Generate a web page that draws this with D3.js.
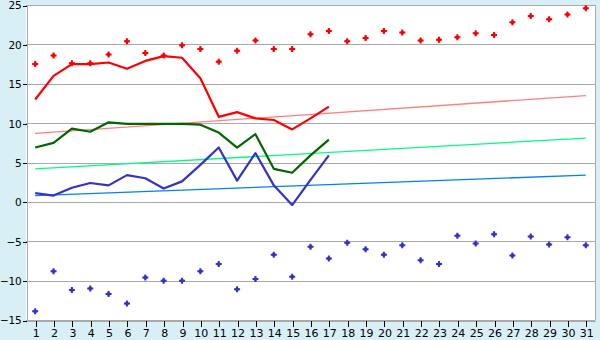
<!DOCTYPE html>
<html>
<head>
<meta charset="utf-8">
<script src="https://cdn.jsdelivr.net/npm/d3@7"></script>
<style>
  html, body { margin: 0; padding: 0; background: #d9eff6; }
  svg { display: block; }
  text { font-family: "DejaVu Sans", Verdana, sans-serif; font-size: 11px; fill: #000; }
</style>
</head>
<body>
<svg id="chart" width="600" height="340"></svg>
<script>
const days = ["1","2","3","4","5","6","7","8","9","10","11","12","13","14","15","16","17","18","19","20","21","22","23","24","25","26","27","28","29","30","31"];
const yTicks = [-15, -10, -5, 0, 5, 10, 15, 20, 25];

const maxPoints = [17.5,18.6,17.6,17.6,18.7,20.4,18.9,18.6,19.9,19.4,17.8,19.2,20.5,19.4,19.4,21.3,21.7,20.4,20.8,21.7,21.5,20.5,20.6,20.9,21.4,21.2,22.8,23.6,23.2,23.8,24.6];
const minPoints = [-13.9,-8.8,-11.2,-11.0,-11.7,-12.9,-9.6,-10.0,-10.0,-8.8,-7.9,-11.1,-9.8,-6.7,-9.5,-5.7,-7.2,-5.2,-6.0,-6.7,-5.5,-7.4,-7.9,-4.3,-5.3,-4.1,-6.8,-4.4,-5.4,-4.5,-5.5];

const redLine   = [13.0,16.0,17.5,17.5,17.7,16.9,17.9,18.5,18.3,15.7,10.8,11.4,10.6,10.4,9.2,10.6,12.1];
const greenLine = [6.9,7.5,9.3,8.9,10.1,9.9,9.9,9.9,9.9,9.8,8.8,6.9,8.6,4.2,3.7,5.9,7.9];
const blueLine  = [1.1,0.8,1.8,2.4,2.1,3.4,3.0,1.7,2.6,4.7,6.9,2.7,6.2,2.1,-0.4,2.8,5.9];

// trend lines: value at first day and at last day
const redTrend   = [8.7, 13.5];
const greenTrend = [4.2, 8.1];
const blueTrend  = [0.8, 3.4];

const svg = d3.select("#chart");
const pLeft = 26, pRight = 595, pTop = 5, pBottom = 320;

const x = d3.scalePoint().domain(days).range([pLeft, pRight]).padding(0.5);
const y = d3.scaleLinear().domain([-15, 25]).range([pBottom, pTop]);

// plot background
svg.append("rect").attr("x", pLeft).attr("y", pTop)
  .attr("width", pRight - pLeft).attr("height", pBottom - pTop).attr("fill", "#fff");

// gridlines
svg.append("g").selectAll("line").data(yTicks).join("line")
  .attr("x1", pLeft).attr("x2", pRight)
  .attr("y1", d => y(d) + 0.5).attr("y2", d => y(d) + 0.5)
  .attr("stroke", "#aaaaaa").attr("stroke-width", 1).attr("shape-rendering", "crispEdges");

// right border
svg.append("line").attr("x1", pRight + 0.5).attr("x2", pRight + 0.5).attr("y1", pTop).attr("y2", pBottom)
  .attr("stroke", "#aaaaaa").attr("shape-rendering", "crispEdges");

// axes
const yAxis = svg.append("g").attr("transform", `translate(${pLeft + 0.5},0.5)`)
  .call(d3.axisLeft(y).tickValues(yTicks).tickSize(4).tickSizeOuter(0).tickPadding(1));
const xAxis = svg.append("g").attr("transform", `translate(0.5,${pBottom + 0.5})`)
  .call(d3.axisBottom(x).tickSize(6).tickSizeOuter(0).tickPadding(3));
[yAxis, xAxis].forEach(a => {
  a.select(".domain").attr("stroke", "#aaaaaa").attr("shape-rendering", "crispEdges");
  a.selectAll(".tick line").attr("stroke", "#000").attr("shape-rendering", "crispEdges");
  a.selectAll("text").style("font-family", '"DejaVu Sans", Verdana, sans-serif').style("font-size", "11px").attr("fill", "#000");
});
yAxis.selectAll("text").style("font-size", "10.5px").style("letter-spacing", "-0.2px");

// trend lines
const trends = [
  {v: redTrend, c: "#ff8080"},
  {v: greenTrend, c: "#00ff80"},
  {v: blueTrend, c: "#0080ff"}
];
trends.forEach(t => {
  svg.append("line")
    .attr("x1", x(days[0])).attr("x2", x(days[days.length - 1]))
    .attr("y1", y(t.v[0])).attr("y2", y(t.v[1]))
    .attr("stroke", t.c).attr("stroke-width", 1.3);
});

// data lines
const line = d3.line().x((d, i) => x(days[i])).y(d => y(d));
[
  {v: greenLine, c: "#006600"},
  {v: blueLine, c: "#3333cc"},
  {v: redLine, c: "#ff0000"}
].forEach(s => {
  svg.append("path").datum(s.v).attr("d", line)
    .attr("fill", "none").attr("stroke", s.c).attr("stroke-width", 2.2)
    .attr("stroke-linejoin", "round");
});

// markers
function markers(vals, color) {
  const g = svg.append("g");
  const sel = g.selectAll("g").data(vals).join("g")
    .attr("transform", (d, i) => `translate(${x(days[i])},${y(d)})`);
  sel.append("path").attr("d", d3.symbol(d3.symbolCross, 20)).attr("fill", color);
  sel.append("circle").attr("r", 1.9).attr("fill", color);
}
markers(maxPoints, "#ff0000");
markers(minPoints, "#3333cc");
</script>
</body>
</html>
